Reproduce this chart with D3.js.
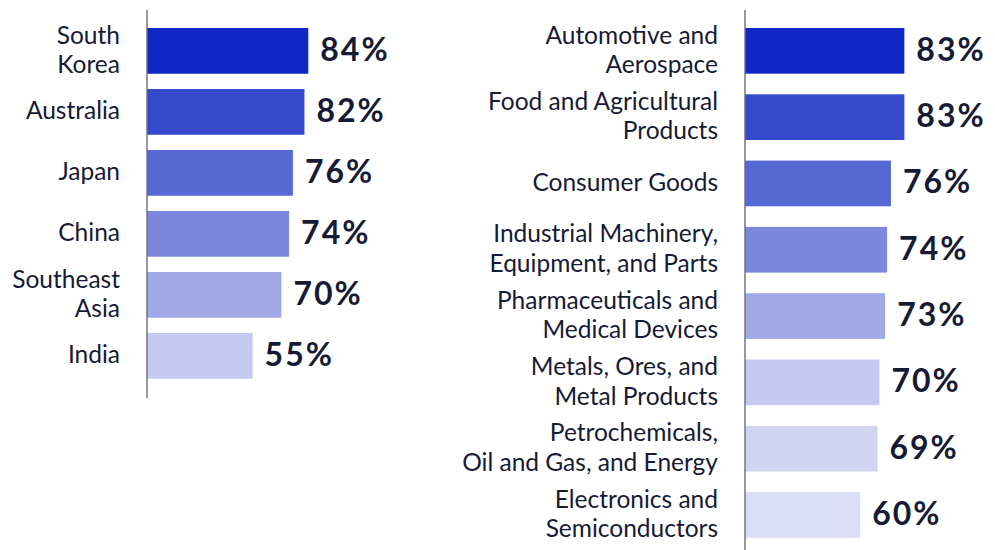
<!DOCTYPE html>
<html>
<head>
<meta charset="utf-8">
<script src="https://cdn.jsdelivr.net/npm/d3@7"></script>
<style>
  html, body { margin: 0; padding: 0; background: #ffffff; }
  svg { display: block; }
  text { font-family: Lato, "Noto Sans", sans-serif; fill: #161a35; }
</style>
</head>
<body>
<svg id="chart" width="995" height="550"></svg>
<script>
// Share of respondents, by region
const regions = ["South Korea", "Australia", "Japan", "China", "Southeast Asia", "India"];
const regionLines = [["South", "Korea"], ["Australia"], ["Japan"], ["China"], ["Southeast", "Asia"], ["India"]];
const regionValues = [84, 82, 76, 74, 70, 55];

// Share of respondents, by industry
const industries = [
  "Automotive and Aerospace",
  "Food and Agricultural Products",
  "Consumer Goods",
  "Industrial Machinery, Equipment, and Parts",
  "Pharmaceuticals and Medical Devices",
  "Metals, Ores, and Metal Products",
  "Petrochemicals, Oil and Gas, and Energy",
  "Electronics and Semiconductors"
];
const industryLines = [
  ["Automotive and", "Aerospace"],
  ["Food and Agricultural", "Products"],
  ["Consumer Goods"],
  ["Industrial Machinery,", "Equipment, and Parts"],
  ["Pharmaceuticals and", "Medical Devices"],
  ["Metals, Ores, and", "Metal Products"],
  ["Petrochemicals,", "Oil and Gas, and Energy"],
  ["Electronics and", "Semiconductors"]
];
const industryValues = [83, 83, 76, 74, 73, 70, 69, 60];

const regionColors = ["#1027c4", "#3449cc", "#5668d4", "#7b87dc", "#a0a9e6", "#c4caf0"];
const industryColors = ["#1027c4", "#3449cc", "#5668d4", "#7b87dc", "#a0a9e6", "#c4caf0", "#d0d4f1", "#dcdef7"];

const svg = d3.select("#chart");

function drawPanel(cfg) {
  const g = svg.append("g").attr("transform", `translate(${cfg.axisX},0)`);

  const x = d3.scaleLinear().domain([0, 100]).range([0, 192]);
  const y = d3.scaleBand()
    .domain(cfg.categories)
    .range(cfg.yRange)
    .paddingInner(cfg.padding)
    .paddingOuter(0);

  const rows = cfg.categories.map((c, i) => ({
    key: c, value: cfg.values[i], lines: cfg.lines[i], color: cfg.colors[i]
  }));

  g.selectAll("rect.bar")
    .data(rows)
    .join("rect")
    .attr("class", "bar")
    .attr("x", 0)
    .attr("y", d => y(d.key))
    .attr("width", d => x(d.value))
    .attr("height", y.bandwidth())
    .attr("fill", d => d.color);

  // vertical baseline
  g.append("line")
    .attr("x1", 0).attr("x2", 0)
    .attr("y1", cfg.lineTop).attr("y2", cfg.lineBottom)
    .attr("stroke", "#6c6c7a")
    .attr("stroke-width", 1.4);

  const lineH = 29.5;
  const labels = g.selectAll("text.cat")
    .data(rows)
    .join("text")
    .attr("class", "cat")
    .attr("text-anchor", "end")
    .attr("font-size", 24.5)
    .attr("x", -27)
    .attr("y", d => y(d.key) + y.bandwidth() / 2);

  labels.selectAll("tspan")
    .data(d => d.lines.map((t, i, arr) => ({ t, off: (i - (arr.length - 1) / 2) * lineH })))
    .join("tspan")
    .attr("x", -27)
    .attr("dy", (d, i) => i === 0 ? d.off + 7.5 : lineH)
    .text(d => d.t);

  g.selectAll("text.val")
    .data(rows)
    .join("text")
    .attr("class", "val")
    .attr("font-size", 32)
    .attr("font-weight", 700)
    .attr("letter-spacing", 2)
    .attr("x", d => x(d.value) + 12)
    .attr("y", d => y(d.key) + y.bandwidth() / 2 + 10)
    .text(d => d.value + "%");
}

drawPanel({
  axisX: 147,
  categories: regions,
  lines: regionLines,
  values: regionValues,
  colors: regionColors,
  yRange: [28, 378.75],
  padding: 0.25,
  lineTop: 10,
  lineBottom: 398
});

drawPanel({
  axisX: 745,
  categories: industries,
  lines: industryLines,
  values: industryValues,
  colors: industryColors,
  yRange: [28, 537.8],
  padding: 0.311,
  lineTop: 10,
  lineBottom: 550
});
</script>
</body>
</html>
